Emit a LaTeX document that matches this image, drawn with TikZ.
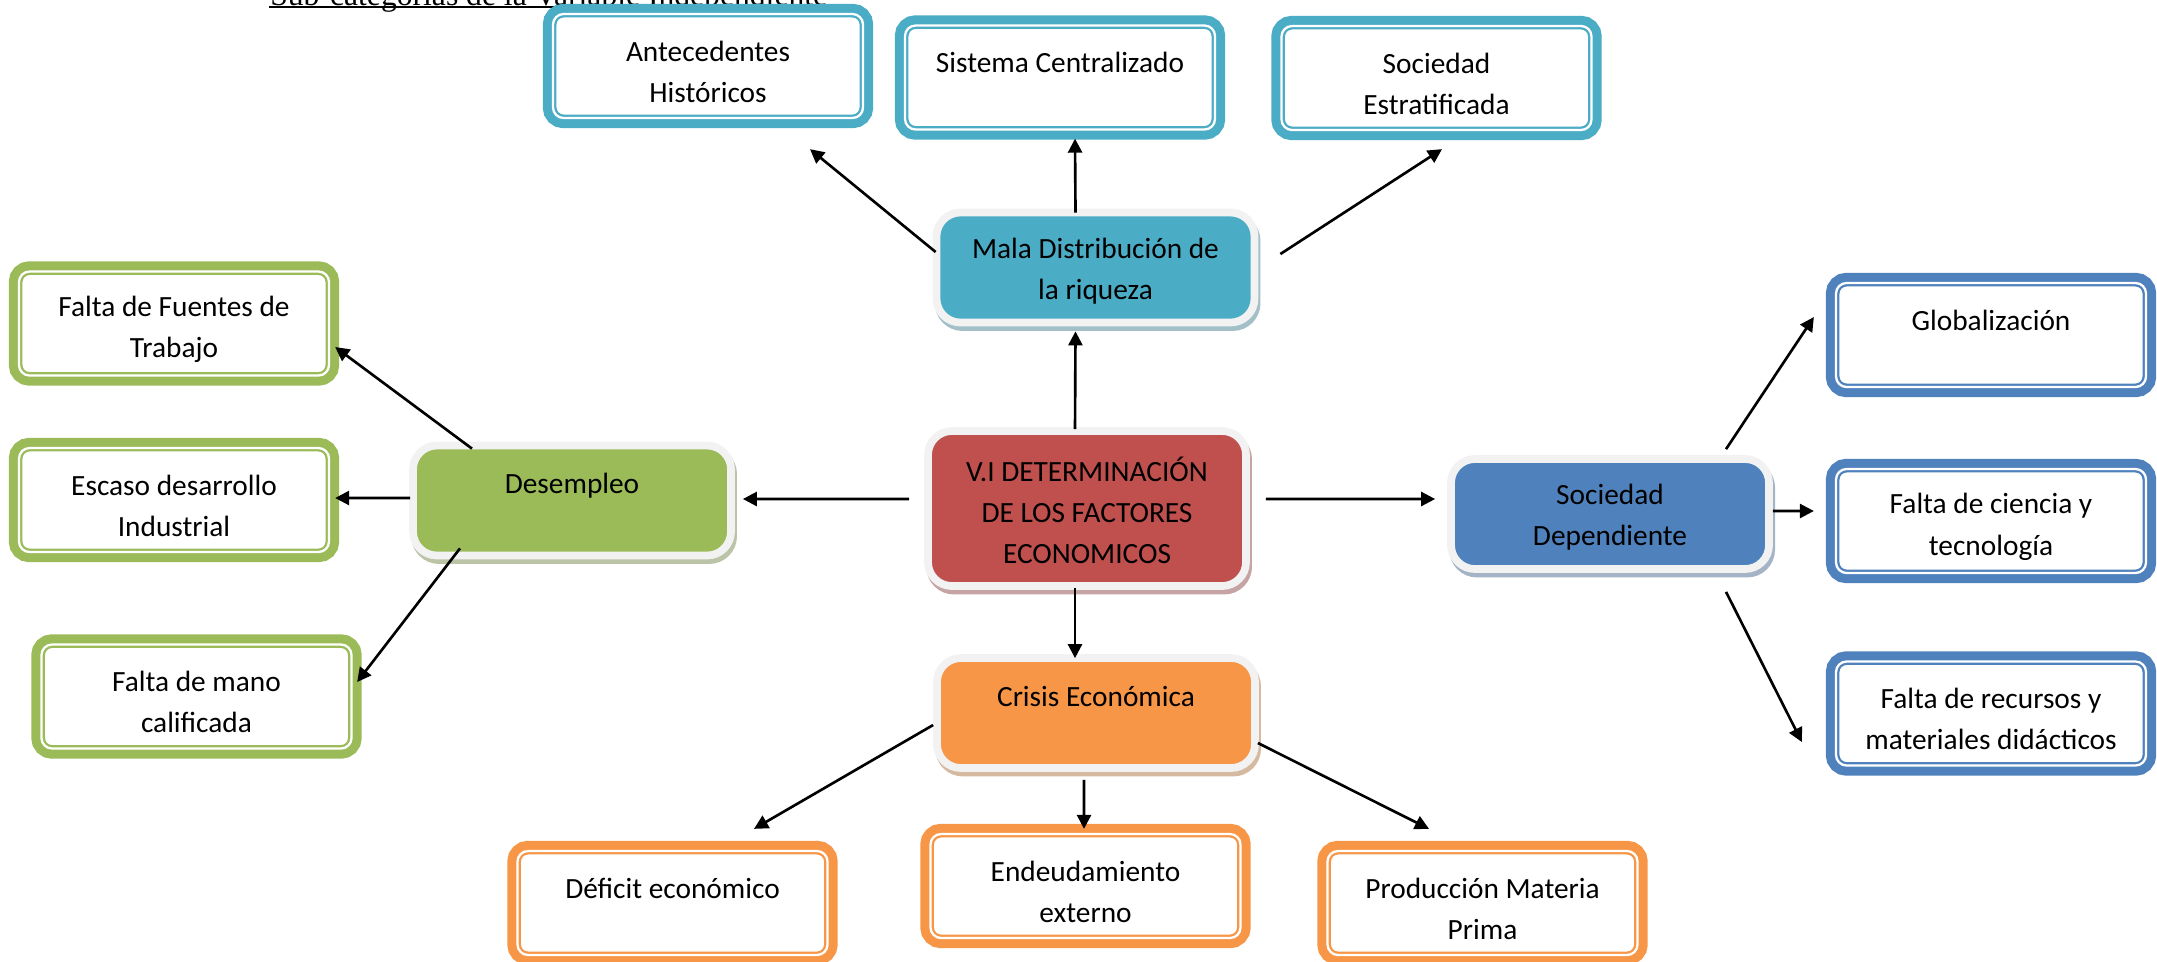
\documentclass[tikz,border=0pt]{standalone}
\usepackage{fontspec}
\setmainfont{Carlito}
\newfontfamily\titlefont{Liberation Serif}
\usepackage{tikz}
\usetikzlibrary{arrows.meta}

\definecolor{cteal}{HTML}{4BACC6}
\definecolor{cred}{HTML}{C0504D}
\definecolor{corange}{HTML}{F79646}
\definecolor{cgreen}{HTML}{9BBB59}
\definecolor{cblue}{HTML}{4F81BD}
\definecolor{rim}{HTML}{F2F2F2}

\begin{document}
\begin{tikzpicture}[->, >={Triangle[length=4pt, width=4pt]}, line width=0.75pt,
  font=\fontsize{8.35}{11.7}\selectfont,
  leaf/.style={rectangle, rounded corners=3pt, minimum width=3.1cm, minimum height=1.04cm,
    align=center, text height=20.8pt, fill=white, draw=#1, line width=0.65pt,
    double=white, double distance=0.65pt, preaction={draw=#1, line width=5.8pt}},
  hub/.style={rectangle, rounded corners=6.8pt, minimum width=3.18cm, minimum height=1.1cm,
    align=center, text height=19.5pt, fill=#1, draw=rim, line width=2.2pt,
    preaction={draw=#1!50!gray!60, fill=#1!50!gray!60, line width=2.2pt,
      transform canvas={shift={(0.6pt,-1.3pt)}}}}]
  \useasboundingbox (0,0) rectangle (21.57,-9.61);

  % title, cut at the top of the page
  \node[anchor=base west, inner sep=0pt, font=\titlefont\fontsize{9}{11}\selectfont] (titulo) at (2.69,-0.055) {Sub-categorías de la Variable Independiente};
  \draw[-, line width=0.5pt] ([yshift=-0.015cm]titulo.base west) -- ([yshift=-0.015cm]titulo.base east);

  % main nodes
  \node[hub=cred, minimum height=1.55cm, text height=31.3pt] (vi) at (10.87,-5.085) {V.I DETERMINACIÓN\\DE LOS FACTORES\\ECONOMICOS};
  \node[hub=cteal] (mala) at (10.955,-2.675) {Mala Distribución de\\la riqueza};
  \node[hub=corange] (crisis) at (10.96,-7.13) {Crisis Económica\\~};
  \node[hub=cgreen] (desem) at (5.72,-5.005) {Desempleo\\~};
  \node[hub=cblue] (socdep) at (16.10,-5.14) {Sociedad\\Dependiente};

  % sub categories
  \node[leaf=cteal] (ante) at (7.08,-0.66) {Antecedentes\\Históricos};
  \node[leaf=cteal] (sist) at (10.60,-0.775) {Sistema Centralizado\\~};
  \node[leaf=cteal] (estr) at (14.365,-0.78) {Sociedad\\Estratificada};

  \node[leaf=cgreen] (fuentes) at (1.74,-3.235) {Falta de Fuentes de\\Trabajo};
  \node[leaf=cgreen] (escaso) at (1.74,-5.0) {Escaso desarrollo\\Industrial};
  \node[leaf=cgreen] (mano) at (1.965,-6.965) {Falta de mano\\calificada};

  \node[leaf=cblue] (glob) at (19.91,-3.35) {Globalización\\~};
  \node[leaf=cblue] (ciencia) at (19.91,-5.21) {Falta de ciencia y\\tecnología};
  \node[leaf=cblue] (recursos) at (19.91,-7.135) {Falta de recursos y\\materiales didácticos};

  \node[leaf=corange] (deficit) at (6.725,-9.03) {Déficit económico\\~};
  \node[leaf=corange] (endeu) at (10.855,-8.86) {Endeudamiento\\externo};
  \node[leaf=corange] (produc) at (14.825,-9.03) {Producción Materia\\Prima};

  % arrows
  \draw ([xshift=-0.12cm, yshift=-0.02cm]vi.north) -- ([xshift=-0.2cm, yshift=-0.05cm]mala.south);
  \draw ([xshift=-0.15cm, yshift=0.095cm]vi.west) -- ([xshift=0.08cm, yshift=0.015cm]desem.east);
  \draw ([xshift=0.16cm, yshift=0.095cm]vi.east) -- ([xshift=-0.12cm, yshift=0.15cm]socdep.west);
  \draw ([xshift=-0.12cm, yshift=0.02cm]vi.south) -- ([xshift=-0.21cm, yshift=-0.04cm]crisis.north);

  \draw ([xshift=0.03cm, yshift=0.155cm]mala.west) -- ([xshift=1.02cm, yshift=-0.3cm]ante.south);
  \draw ([xshift=-0.2cm, yshift=-0.04cm]mala.north) -- ([xshift=0.15cm, yshift=-0.08cm]sist.south);
  \draw ([xshift=0.22cm, yshift=0.135cm]mala.east) -- ([xshift=0.055cm, yshift=-0.18cm]estr.south);

  \draw ([xshift=-1.0cm, yshift=-0.07cm]desem.north) -- ([xshift=0.05cm, yshift=-0.235cm]fuentes.east);
  \draw ([xshift=0.01cm, yshift=0.025cm]desem.west) -- ([xshift=0.05cm, yshift=0.02cm]escaso.east);
  \draw ([xshift=-1.12cm, yshift=0.11cm]desem.south) -- ([xshift=0.045cm, yshift=0.145cm]mano.east);

  \draw ([xshift=1.16cm, yshift=0.06cm]socdep.north) -- ([xshift=-0.21cm, yshift=0.18cm]glob.west);
  \draw ([yshift=0.03cm]socdep.east) -- ([xshift=-0.21cm, yshift=0.1cm]ciencia.west);
  \draw ([xshift=1.16cm, yshift=-0.19cm]socdep.south) -- ([xshift=-0.33cm, yshift=-0.285cm]recursos.west);

  \draw ([yshift=-0.12cm]crisis.west) -- ([xshift=0.815cm, yshift=0.21cm]deficit.north);
  \draw ([xshift=-0.12cm, yshift=-0.08cm]crisis.south) -- ([xshift=-0.015cm, yshift=0.04cm]endeu.north);
  \draw ([xshift=-0.01cm, yshift=-0.3cm]crisis.east) -- ([xshift=-0.535cm, yshift=0.21cm]produc.north);
\end{tikzpicture}
\end{document}
